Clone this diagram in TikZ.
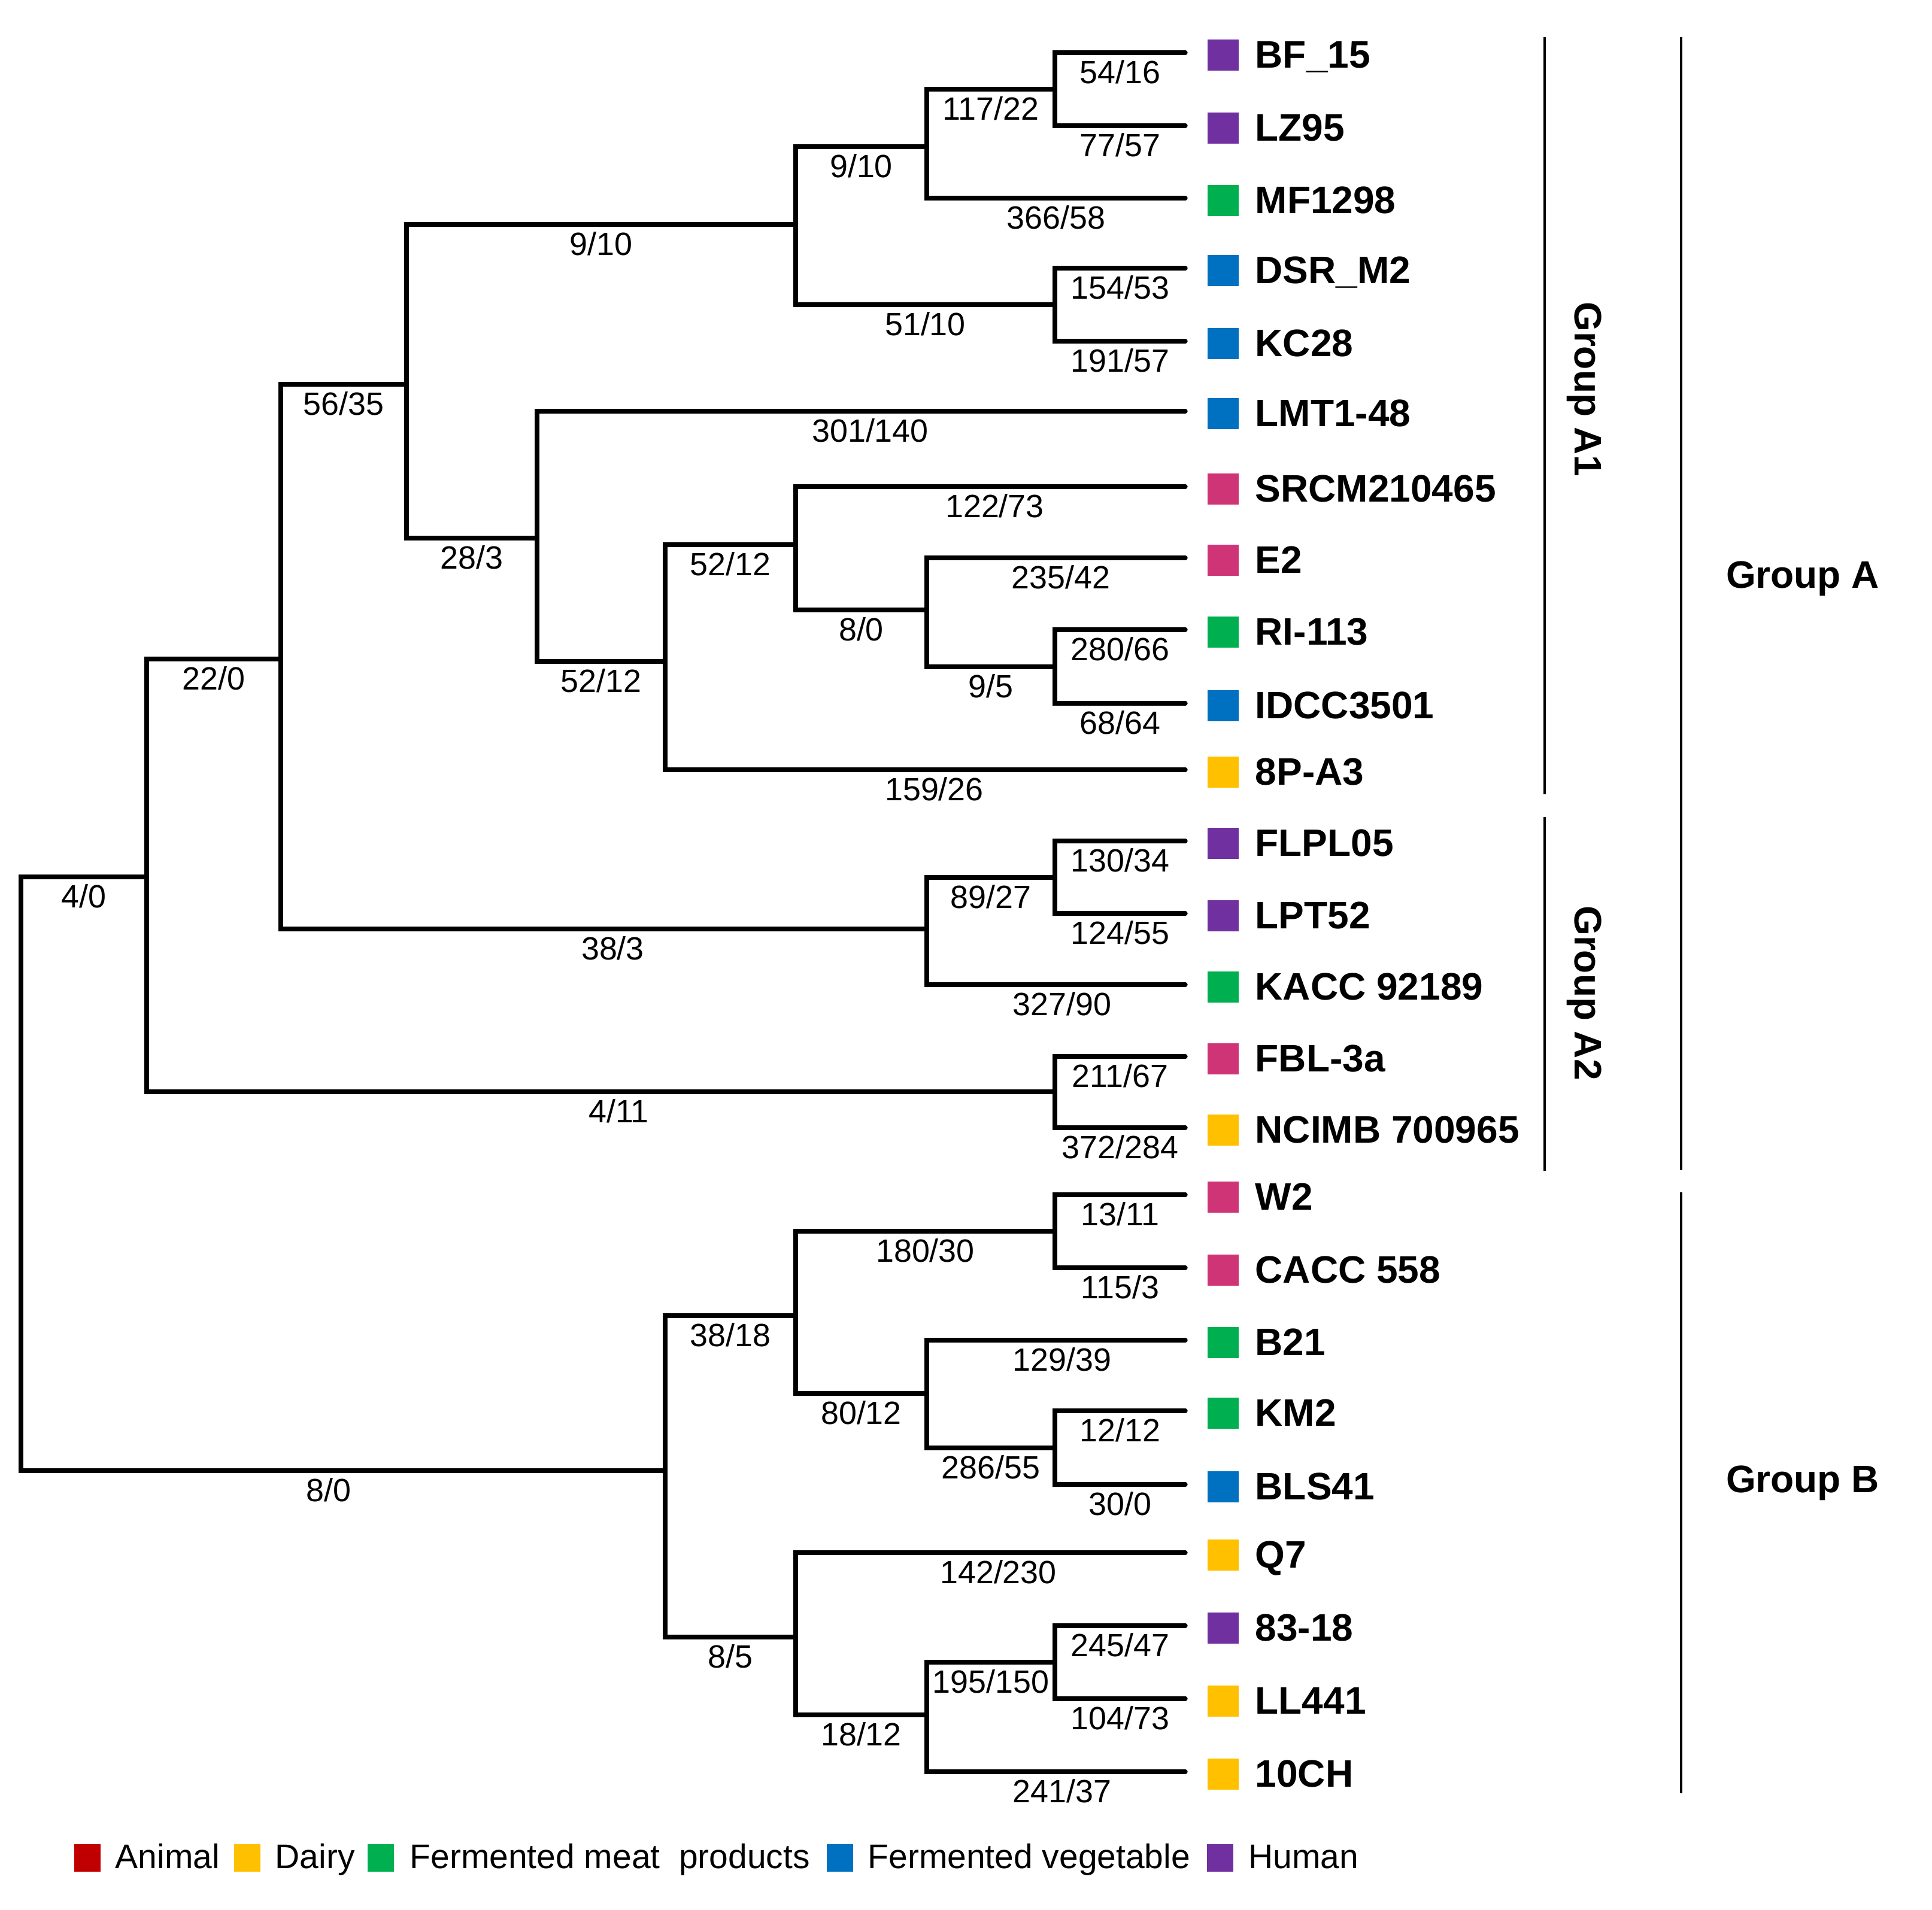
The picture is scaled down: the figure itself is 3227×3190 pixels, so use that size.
\documentclass[tikz,border=0pt]{standalone}
\usepackage{fontspec}
\setmainfont{Liberation Sans}
\definecolor{cpur}{RGB}{112,48,160}
\definecolor{cgrn}{RGB}{0,176,80}
\definecolor{cblu}{RGB}{0,112,192}
\definecolor{cyel}{RGB}{255,192,0}
\definecolor{cred}{RGB}{192,0,0}
\definecolor{cpnk}{RGB}{207,52,118}
\newcommand\leafitem[4]{%
  \coordinate (#1) at (1980,#2);
  \node[sq, fill=#3] (#1s) at (2043,#2+4) {};
  \node[leaflbl] (#1t) at (2096,#2+25) {#4};
}
\begin{document}
\begin{tikzpicture}[x=0.01cm,y=-0.01cm,
  br/.style={line width=2.1pt, line cap=round, line join=miter},
  bl/.style={anchor=base, inner sep=0, yshift=-0.51cm, font=\fontsize{15.3}{16}\selectfont},
  sq/.style={minimum size=0.52cm, inner sep=0, draw=none, rectangle},
  leaflbl/.style={anchor=base west, inner sep=0, font=\fontsize{18.2}{20}\selectfont\bfseries},
  grp/.style={inner sep=0, font=\fontsize{18.2}{20}\selectfont\bfseries},
  bar/.style={line width=1.05pt},
  lg/.style={anchor=base west, inner sep=0, font=\fontsize{16.2}{18}\selectfont},
  lsq/.style={minimum width=0.44cm, minimum height=0.46cm, inner sep=0, rectangle, draw=none}]
\useasboundingbox (0,0) rectangle (3227,3190);

% leaves
\leafitem{BF}{88}{cpur}{BF\_15}
\leafitem{LZ}{210}{cpur}{LZ95}
\leafitem{MF}{331}{cgrn}{MF1298}
\leafitem{DSR}{448}{cblu}{DSR\_M2}
\leafitem{KC}{570}{cblu}{KC28}
\leafitem{LMT}{687}{cblu}{LMT1-48}
\leafitem{SRCM}{813}{cpnk}{SRCM210465}
\leafitem{Etwo}{932}{cpnk}{E2}
\leafitem{RI}{1052}{cgrn}{RI-113}
\leafitem{IDCC}{1175}{cblu}{IDCC3501}
\leafitem{Pe}{1286}{cyel}{8P-A3}
\leafitem{FLPL}{1405}{cpur}{FLPL05}
\leafitem{LPT}{1526}{cpur}{LPT52}
\leafitem{KACC}{1645}{cgrn}{KACC 92189}
\leafitem{FBL}{1765}{cpnk}{FBL-3a}
\leafitem{NCIMB}{1884}{cyel}{NCIMB 700965}
\leafitem{Wtwo}{1996}{cpnk}{W2}
\leafitem{CACC}{2118}{cpnk}{CACC 558}
\leafitem{Btw}{2239}{cgrn}{B21}
\leafitem{KM}{2357}{cgrn}{KM2}
\leafitem{BLS}{2480}{cblu}{BLS41}
\leafitem{Q}{2594}{cyel}{Q7}
\leafitem{Eight}{2716}{cpur}{83-18}
\leafitem{LL}{2838}{cyel}{LL441}
\leafitem{CH}{2960}{cyel}{10CH}

% internal nodes
\coordinate (root) at (35,1961);
\coordinate (nA) at (245,1465);
\coordinate (nB) at (1111,2457);
\coordinate (n220) at (469,1101);
\coordinate (n411) at (1762,1824);
\coordinate (n5635) at (679,642);
\coordinate (n383) at (1548,1552);
\coordinate (n910a) at (1329,375);
\coordinate (n283) at (897,899);
\coordinate (n910b) at (1548,245);
\coordinate (n5110) at (1762,509);
\coordinate (n11722) at (1762,149);
\coordinate (n5212a) at (1111,1105);
\coordinate (n5212b) at (1329,910);
\coordinate (n80a) at (1548,1019);
\coordinate (n95) at (1762,1114);
\coordinate (n8927) at (1762,1466);
\coordinate (n3818) at (1329,2198);
\coordinate (n85) at (1329,2735);
\coordinate (n18030) at (1762,2057);
\coordinate (n8012) at (1548,2328);
\coordinate (n28655) at (1762,2419);
\coordinate (n1812) at (1548,2865);
\coordinate (n195150) at (1762,2777);

% branches
\draw[br] (root) |- (nA) node[bl,pos=0.75]{4/0};
\draw[br] (root) |- (nB) node[bl,pos=0.75,xshift=-0.24cm]{8/0};
\draw[br] (nA) |- (n220) node[bl,pos=0.75]{22/0};
\draw[br] (nA) |- (n411) node[bl,pos=0.75,xshift=0.3cm]{4/11};
\draw[br] (n220) |- (n5635) node[bl,pos=0.75]{56/35};
\draw[br] (n220) |- (n383) node[bl,pos=0.75,xshift=0.15cm]{38/3};
\draw[br] (n5635) |- (n910a) node[bl,pos=0.75]{9/10};
\draw[br] (n5635) |- (n283) node[bl,pos=0.75]{28/3};
\draw[br] (n910a) |- (n910b) node[bl,pos=0.75]{9/10};
\draw[br] (n910a) |- (n5110) node[bl,pos=0.75]{51/10};
\draw[br] (n910b) |- (n11722) node[bl,pos=0.75]{117/22};
\draw[br] (n910b) |- (MF) node[bl,pos=0.75]{366/58};
\draw[br] (n11722) |- (BF) node[bl,pos=0.75]{54/16};
\draw[br] (n11722) |- (LZ) node[bl,pos=0.75]{77/57};
\draw[br] (n5110) |- (DSR) node[bl,pos=0.75]{154/53};
\draw[br] (n5110) |- (KC) node[bl,pos=0.75]{191/57};
\draw[br] (n283) |- (LMT) node[bl,pos=0.75,xshift=0.15cm]{301/140};
\draw[br] (n283) |- (n5212a) node[bl,pos=0.75]{52/12};
\draw[br] (n5212a) |- (n5212b) node[bl,pos=0.75]{52/12};
\draw[br] (n5212a) |- (Pe) node[bl,pos=0.75,xshift=0.15cm]{159/26};
\draw[br] (n5212b) |- (SRCM) node[bl,pos=0.75,xshift=0.07cm]{122/73};
\draw[br] (n5212b) |- (n80a) node[bl,pos=0.75]{8/0};
\draw[br] (n80a) |- (Etwo) node[bl,pos=0.75,xshift=0.08cm]{235/42};
\draw[br] (n80a) |- (n95) node[bl,pos=0.75]{9/5};
\draw[br] (n95) |- (RI) node[bl,pos=0.75]{280/66};
\draw[br] (n95) |- (IDCC) node[bl,pos=0.75]{68/64};
\draw[br] (n383) |- (n8927) node[bl,pos=0.75]{89/27};
\draw[br] (n383) |- (KACC) node[bl,pos=0.75,xshift=0.1cm]{327/90};
\draw[br] (n8927) |- (FLPL) node[bl,pos=0.75]{130/34};
\draw[br] (n8927) |- (LPT) node[bl,pos=0.75]{124/55};
\draw[br] (n411) |- (FBL) node[bl,pos=0.75]{211/67};
\draw[br] (n411) |- (NCIMB) node[bl,pos=0.75]{372/284};
\draw[br] (nB) |- (n3818) node[bl,pos=0.75]{38/18};
\draw[br] (nB) |- (n85) node[bl,pos=0.75]{8/5};
\draw[br] (n3818) |- (n18030) node[bl,pos=0.75]{180/30};
\draw[br] (n3818) |- (n8012) node[bl,pos=0.75]{80/12};
\draw[br] (n18030) |- (Wtwo) node[bl,pos=0.75]{13/11};
\draw[br] (n18030) |- (CACC) node[bl,pos=0.75]{115/3};
\draw[br] (n8012) |- (Btw) node[bl,pos=0.75,xshift=0.1cm]{129/39};
\draw[br] (n8012) |- (n28655) node[bl,pos=0.75]{286/55};
\draw[br] (n28655) |- (KM) node[bl,pos=0.75]{12/12};
\draw[br] (n28655) |- (BLS) node[bl,pos=0.75]{30/0};
\draw[br] (n85) |- (Q) node[bl,pos=0.75,xshift=0.13cm]{142/230};
\draw[br] (n85) |- (n1812) node[bl,pos=0.75]{18/12};
\draw[br] (n1812) |- (n195150) node[bl,pos=0.75]{195/150};
\draw[br] (n1812) |- (CH) node[bl,pos=0.75,xshift=0.1cm]{241/37};
\draw[br] (n195150) |- (Eight) node[bl,pos=0.75]{245/47};
\draw[br] (n195150) |- (LL) node[bl,pos=0.75]{104/73};

% group bars
\draw[bar] (2580,62) -- (2580,1327);
\draw[bar] (2580,1365) -- (2580,1956);
\draw[bar] (2808,62) -- (2808,1955);
\draw[bar] (2808,1992) -- (2808,2996);
\node[grp, rotate=-90] (gA1) at (2646,650) {Group A1};
\node[grp, rotate=-90] (gA2) at (2646,1659) {Group A2};
\node[grp, anchor=base] (gA) at (3011,982) {Group A};
\node[grp, anchor=base] (gB) at (3011,2493) {Group B};

% legend
\node[lsq, fill=cred] (l1) at (146,3104) {};
\node[lg] (l1t) at (192,3121) {Animal};
\node[lsq, fill=cyel] (l2) at (413,3104) {};
\node[lg] (l2t) at (459,3121) {Dairy};
\node[lsq, fill=cgrn] (l3) at (636,3104) {};
\node[lg] (l3t) at (684,3121) {Fermented meat~~products};
\node[lsq, fill=cblu] (l4) at (1403,3104) {};
\node[lg] (l4t) at (1449,3121) {Fermented vegetable};
\node[lsq, fill=cpur] (l5) at (2038,3104) {};
\node[lg] (l5t) at (2085,3121) {Human};
\end{tikzpicture}
\end{document}
